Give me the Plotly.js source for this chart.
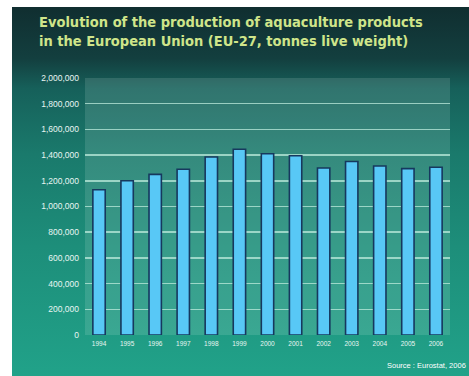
<!DOCTYPE html>
<html>
<head>
<meta charset="utf-8">
<script src="https://cdn.plot.ly/plotly-3.0.1.min.js"></script>
<style>
  html, body { margin: 0; padding: 0; background: #ffffff; }
  #stage { position: relative; width: 469px; height: 376px; overflow: hidden; }
  #panel {
    position: absolute; left: 12px; top: 7px; width: 457px; height: 369px;
    background: linear-gradient(to bottom, #102e30 0%, #133f3f 14%, #16605a 22%, #1a7a6c 40%, #1d8e7a 65%, #21a289 100%);
  }
  #chart { position: absolute; left: 0; top: 0; width: 469px; height: 376px; }
</style>
</head>
<body>
<div id="stage">
  <div id="panel"></div>
  <div id="chart"></div>
</div>
<script>
// Aquaculture production, EU-27, tonnes live weight
const years = ['1994', '1995', '1996', '1997', '1998', '1999', '2000',
               '2001', '2002', '2003', '2004', '2005', '2006'];
const production = [1130000, 1200000, 1250000, 1290000, 1385000, 1445000, 1410000,
                    1395000, 1300000, 1350000, 1315000, 1295000, 1305000];
const yTickValues = [0, 200000, 400000, 600000, 800000, 1000000,
                     1200000, 1400000, 1600000, 1800000, 2000000];
const yTickLabels = ['0', '200,000', '400,000', '600,000', '800,000', '1,000,000',
                     '1,200,000', '1,400,000', '1,600,000', '1,800,000', '2,000,000'];
const titleLines = ['Evolution of the production of aquaculture products',
                    'in the European Union (EU-27, tonnes live weight)'];

const bars = {
  type: 'bar',
  x: years,
  y: production,
  width: 0.44,
  marker: {
    color: '#58c8f6',
    line: { color: '#16385e', width: 1.6 }
  },
  hoverinfo: 'x+y'
};

const layout = {
  width: 469,
  height: 376,
  margin: { l: 85, r: 19, t: 78, b: 41 },
  paper_bgcolor: 'rgba(0,0,0,0)',
  plot_bgcolor: 'rgba(220,240,232,0.14)',
  showlegend: false,
  font: { family: 'Liberation Sans, Arial, sans-serif', color: '#ffffff' },
  xaxis: {
    type: 'category',
    range: [-0.5, 12.5],
    showgrid: false,
    zeroline: false,
    showline: false,
    ticks: '',
    tickfont: { size: 6.5, color: '#e8f6f2' },
    ticklabelstandoff: 3
  },
  yaxis: {
    range: [0, 2000000],
    tickvals: yTickValues,
    ticktext: yTickLabels,
    showgrid: true,
    gridcolor: 'rgba(190,235,220,0.75)',
    gridwidth: 1.5,
    zeroline: false,
    showline: false,
    ticks: '',
    tickfont: { size: 8.5, color: '#e8f6f2' },
    ticklabelstandoff: 5
  },
  annotations: [
    {
      // two-line heading in the dark band above the plot
      text: titleLines.join('<br>'),
      xref: 'paper', yref: 'paper',
      x: -0.132, y: 1.255, xanchor: 'left', yanchor: 'top', align: 'left',
      showarrow: false,
      font: { family: 'DejaVu Sans Condensed, DejaVu Sans, sans-serif', size: 14.5, color: '#cfe58a', weight: 'bold' }
    },
    {
      text: 'Source : Eurostat, 2006',
      xref: 'paper', yref: 'paper',
      x: 1.05, y: -0.095, xanchor: 'right', yanchor: 'top',
      showarrow: false,
      font: { size: 7.5, color: '#ffffff' }
    }
  ]
};

Plotly.newPlot('chart', [bars], layout, { displayModeBar: false, staticPlot: true });
</script>
</body>
</html>
